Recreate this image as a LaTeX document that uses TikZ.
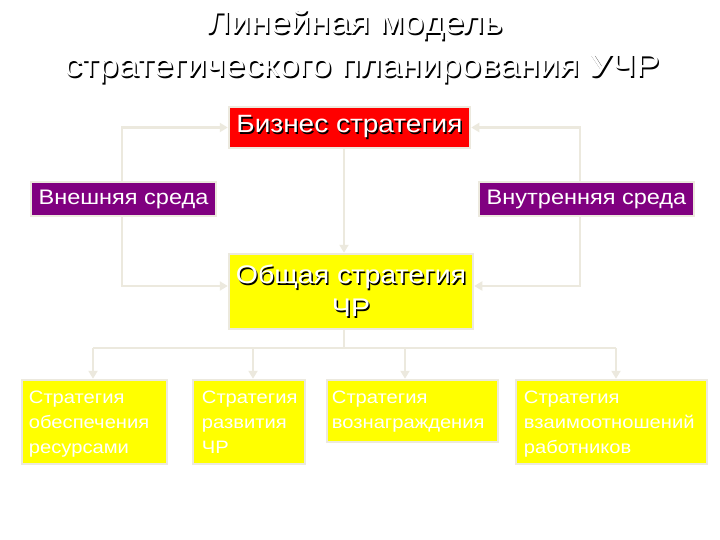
\documentclass[tikz,border=0pt]{standalone}
\usepackage{fontspec}
\setmainfont{Liberation Sans}[FakeStretch=1.12]
\usetikzlibrary{arrows.meta,backgrounds}
\definecolor{linec}{RGB}{236,233,222}
\definecolor{bred}{RGB}{255,0,0}
\definecolor{bpurple}{RGB}{128,0,128}
\definecolor{byellow}{RGB}{255,255,0}
\newcommand{\shd}[1]{\leavevmode\rlap{\kern1.4pt\raisebox{-1.4pt}{\textcolor{black}{#1}}}#1}
\tikzset{
  box/.style={draw=linec, line width=2.5pt, inner sep=0pt, text=white},
  conn/.style={draw=linec, line width=2.8pt, -{Triangle[width=9pt,length=8pt]}},
  plain/.style={draw=linec, line width=2.8pt},
  lowtxt/.style={font=\fontsize{18}{25}\selectfont, align=left, anchor=north west, text=white, inner sep=0pt},
}
\begin{document}
\begin{tikzpicture}[x=1pt,y=-1pt]
\useasboundingbox (0,0) rectangle (720,540);
% title
\node[text=white, font=\fontsize{32}{36}\selectfont] (t1) at (355,26) {\shd{Линейная модель}};
\node[text=white, font=\fontsize{32}{36}\selectfont] (t2) at (362,70) {\shd{стратегического планирования УЧР}};
% boxes
\node[box, fill=bred, minimum width=241pt, minimum height=41pt, font=\fontsize{25}{28}\selectfont] (biz) at (349.5,127.5) {\shd{Бизнес стратегия}};
\node[box, fill=bpurple, minimum width=185pt, minimum height=34pt, font=\fontsize{21}{24}\selectfont] (ext) at (123.5,199) {Внешняя среда};
\node[box, fill=bpurple, minimum width=215pt, minimum height=34pt, font=\fontsize{21}{24}\selectfont] (int) at (586.5,199) {Внутренняя среда};
\node[box, fill=byellow, minimum width=244pt, minimum height=75pt, align=center, font=\fontsize{25.5}{33}\selectfont] (gen) at (351,291.5) {\shd{Общая стратегия}\\\shd{ЧР}};
\node[box, fill=byellow, minimum width=145pt, minimum height=84pt] (b1) at (94.5,422) {};
\node[box, fill=byellow, minimum width=112pt, minimum height=84pt] (b2) at (249,422) {};
\node[box, fill=byellow, minimum width=171pt, minimum height=62pt] (b3) at (412.5,411) {};
\node[box, fill=byellow, minimum width=191pt, minimum height=84pt] (b4) at (611.5,422) {};
\node[lowtxt] (l1) at ([shift={(8,12)}]b1.north west) {Стратегия\\обеспечения\\ресурсами};
\node[lowtxt] (l2) at ([shift={(10,12)}]b2.north west) {Стратегия\\развития\\ЧР};
\node[lowtxt] (l3) at ([shift={(6,12)}]b3.north west) {Стратегия\\вознаграждения};
\node[lowtxt] (l4) at ([shift={(9,12)}]b4.north west) {Стратегия\\взаимоотношений\\работников};
% connectors
\coordinate (cx) at (344,0);
\coordinate (lx) at (122,0);
\coordinate (rx) at (580,0);
\coordinate (bus) at (0,348);
\coordinate (a1) at (93,0);
\coordinate (a2) at (253,0);
\coordinate (a3) at (405,0);
\coordinate (a4) at (616,0);
\coordinate (gy) at (0,286);
\begin{scope}[on background layer]
\fill[white] (0,0) rectangle (720,540);
\draw[conn] (lx |- gy) |- (biz.west);
\draw[conn] (lx |- biz.west) |- (gen.west |- gy);
\draw[conn] (rx |- gy) |- (biz.east);
\draw[conn] (rx |- biz.east) |- (gen.east |- gy);
\draw[conn] (biz.south -| cx) -- (gen.north -| cx);
\draw[plain] (gen.south -| cx) -- (cx |- bus);
\draw[plain] (a1 |- bus) -- (a4 |- bus);
\draw[conn] (a1 |- bus) -- (a1 |- b1.north);
\draw[conn] (a2 |- bus) -- (a2 |- b2.north);
\draw[conn] (a3 |- bus) -- (a3 |- b3.north);
\draw[conn] (a4 |- bus) -- (a4 |- b4.north);
\end{scope}
\end{tikzpicture}
\end{document}
